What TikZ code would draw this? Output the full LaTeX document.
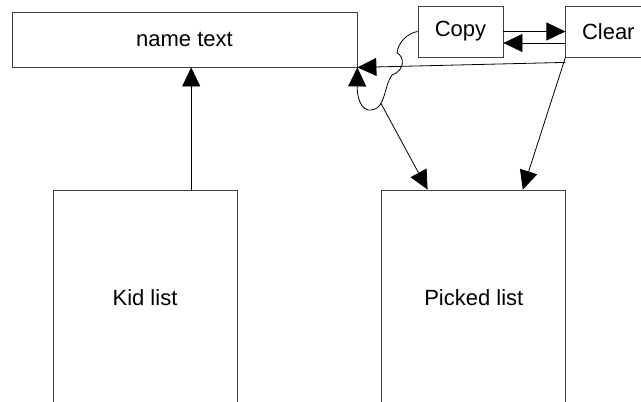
\documentclass[tikz,border=0pt]{standalone}
\usepackage{fontspec}
\setmainfont{Liberation Sans}
\usepackage{tikz}
\usetikzlibrary{arrows.meta,positioning,calc}

\begin{document}
\begin{tikzpicture}[->, >={Triangle[length=19pt,width=18pt]}, x=1pt, y=-1pt, line width=0.8pt, font=\fontsize{22}{26}\selectfont]
    \tikzstyle{box}=[draw=black!75, rectangle, inner sep=0pt]
    \useasboundingbox (0,0) rectangle (641,402);

    % Boxes, the lower two run off the page
    \node[box, minimum width=345pt, minimum height=55pt] (name) at (184.5,39.5) {name text};
    \node[box, minimum width=85pt, minimum height=51pt] (copy) at (460.5,31.5) {Copy};
    \node[box, minimum width=85pt, minimum height=51pt] (clear) [right=62pt of copy] {Clear};
    \node[box, minimum width=184pt, minimum height=216pt] (kid) at (145,298) {Kid list};
    \node[box, minimum width=184pt, minimum height=216pt] (picked) [right=144pt of kid] {Picked list};

    % Ends on the box edges
    \coordinate (kidtop) at ($(kid.north west)!0.75!(kid.north east)$);
    \coordinate (pickA) at ($(picked.north west)!0.25!(picked.north east)$);
    \coordinate (pickB) at ($(picked.north west)!0.765!(picked.north east)$);
    \coordinate (clearlow) at ([yshift=-5pt]clear.south west);

    % Connectors
    \draw (kidtop) -- (kidtop |- name.south);
    \draw (copy.east) -- (clear.west);
    \draw ([yshift=-11.5pt]clear.west) -- ([yshift=-11.5pt]copy.east);
    \draw (clearlow) -- (name.south east);
    \draw (clear.south west) -- (pickB);
    \draw (copy.west) .. controls (408,33) and (398,42) .. (397,53)
          .. controls (404,56) and (406,70) .. (392,75)
          .. controls (384,85) and (386,108) .. coordinate[pos=0.7] (fork) (372,110)
          .. controls (360,112) and (357,95) .. (name.south east);
    \draw (fork) -- (pickA);
\end{tikzpicture}
\end{document}
